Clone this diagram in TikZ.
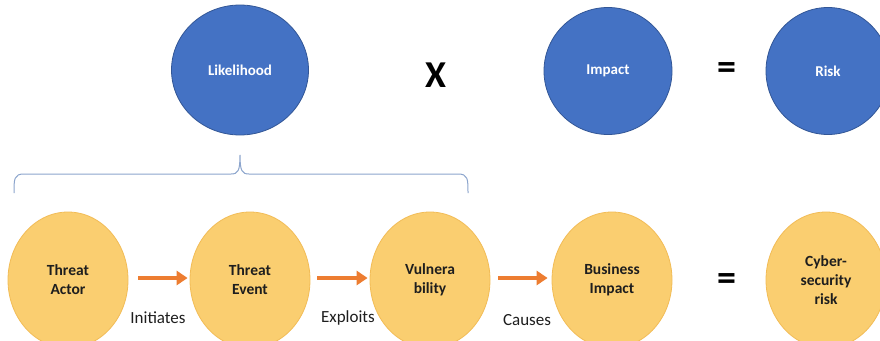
\documentclass[tikz,border=0pt]{standalone}
\usepackage{fontspec}
\setmainfont{Carlito}
\usetikzlibrary{shapes.geometric,arrows.meta}
\definecolor{blueF}{RGB}{68,114,196}
\definecolor{blueD}{RGB}{50,86,150}
\definecolor{goldF}{RGB}{250,206,112}
\definecolor{goldD}{RGB}{242,188,86}
\definecolor{arrO}{RGB}{237,125,49}
\definecolor{braceC}{RGB}{140,165,205}
\definecolor{txtD}{RGB}{30,30,30}
\tikzset{
  bluebox/.style={ellipse,draw=blueD,line width=0.8pt,fill=blueF,text=white,inner sep=0pt,font=\fontsize{15}{18}\selectfont\bfseries,align=center},
  goldbox/.style={ellipse,draw=goldD,line width=0.8pt,fill=goldF,text=txtD,inner sep=0pt,minimum width=120pt,minimum height=136pt,font=\fontsize{15.5}{19}\selectfont\bfseries,align=center},
  oparrow/.style={draw=arrO,line width=4pt,-{Triangle[length=11pt,width=14pt]}},
  oplabel/.style={text=txtD,inner sep=0pt,font=\fontsize{17}{19}\selectfont},
  bigop/.style={text=black,inner sep=0pt,font=\fontsize{38}{40}\selectfont\bfseries},
  bracel/.style={draw=braceC,line width=1pt}
}
\begin{document}
\begin{tikzpicture}[x=1pt,y=-1pt]
\useasboundingbox (0,0) rectangle (880,340);
\clip (0,0) rectangle (880,340);
\fill[white] (0,0) rectangle (880,340);
% top row
\node[bluebox,minimum width=137pt,minimum height=130pt] (lik) at (240,70) {Likelihood};
\node[bigop] (times) at (436,75) {X};
\node[bluebox,minimum width=128pt,minimum height=127pt] (imp) at (608,71) {Impact};
\node[bigop] (eq1) at (727,71) {=};
\node[bluebox,minimum width=124pt,minimum height=127pt] (risk) at (828,71) {Risk};
% brace
\coordinate (bl) at (14,193);
\coordinate (br) at (468,193);
\coordinate (btip) at (240,155);
\draw[bracel] (bl) .. controls (14,179) and (14,174) .. (24,174) -- (231,174)
  .. controls (238,174) and (240,171) .. (btip)
  .. controls (240,171) and (242,174) .. (249,174) -- (458,174)
  .. controls (468,174) and (468,179) .. (br);
% bottom row
\node[goldbox] (ta) at (68,280) {Threat\\Actor};
\node[goldbox] (te) at (250,280) {Threat\\Event};
\node[goldbox] (vu) at (430,280) {Vulnera\\bility};
\node[goldbox] (bi) at (612,280) {Business\\Impact};
\node[bigop] (eq2) at (727,282) {=};
\node[goldbox] (cr) at (826,280) {Cyber-\\security\\risk};
% arrows
\draw[oparrow] ([xshift=10pt,yshift=2pt]ta.east) -- ([xshift=-2pt,yshift=2pt]te.west);
\draw[oparrow] ([xshift=7pt,yshift=2pt]te.east) -- ([xshift=-2pt,yshift=2pt]vu.west);
\draw[oparrow] ([xshift=8pt,yshift=2pt]vu.east) -- ([xshift=-4pt,yshift=2pt]bi.west);
% labels
\node[oplabel] (l1) at (158,318) {Initiates};
\node[oplabel] (l2) at (348,318) {Exploits};
\node[oplabel] (l3) at (527,320) {Causes};
\end{tikzpicture}
\end{document}
